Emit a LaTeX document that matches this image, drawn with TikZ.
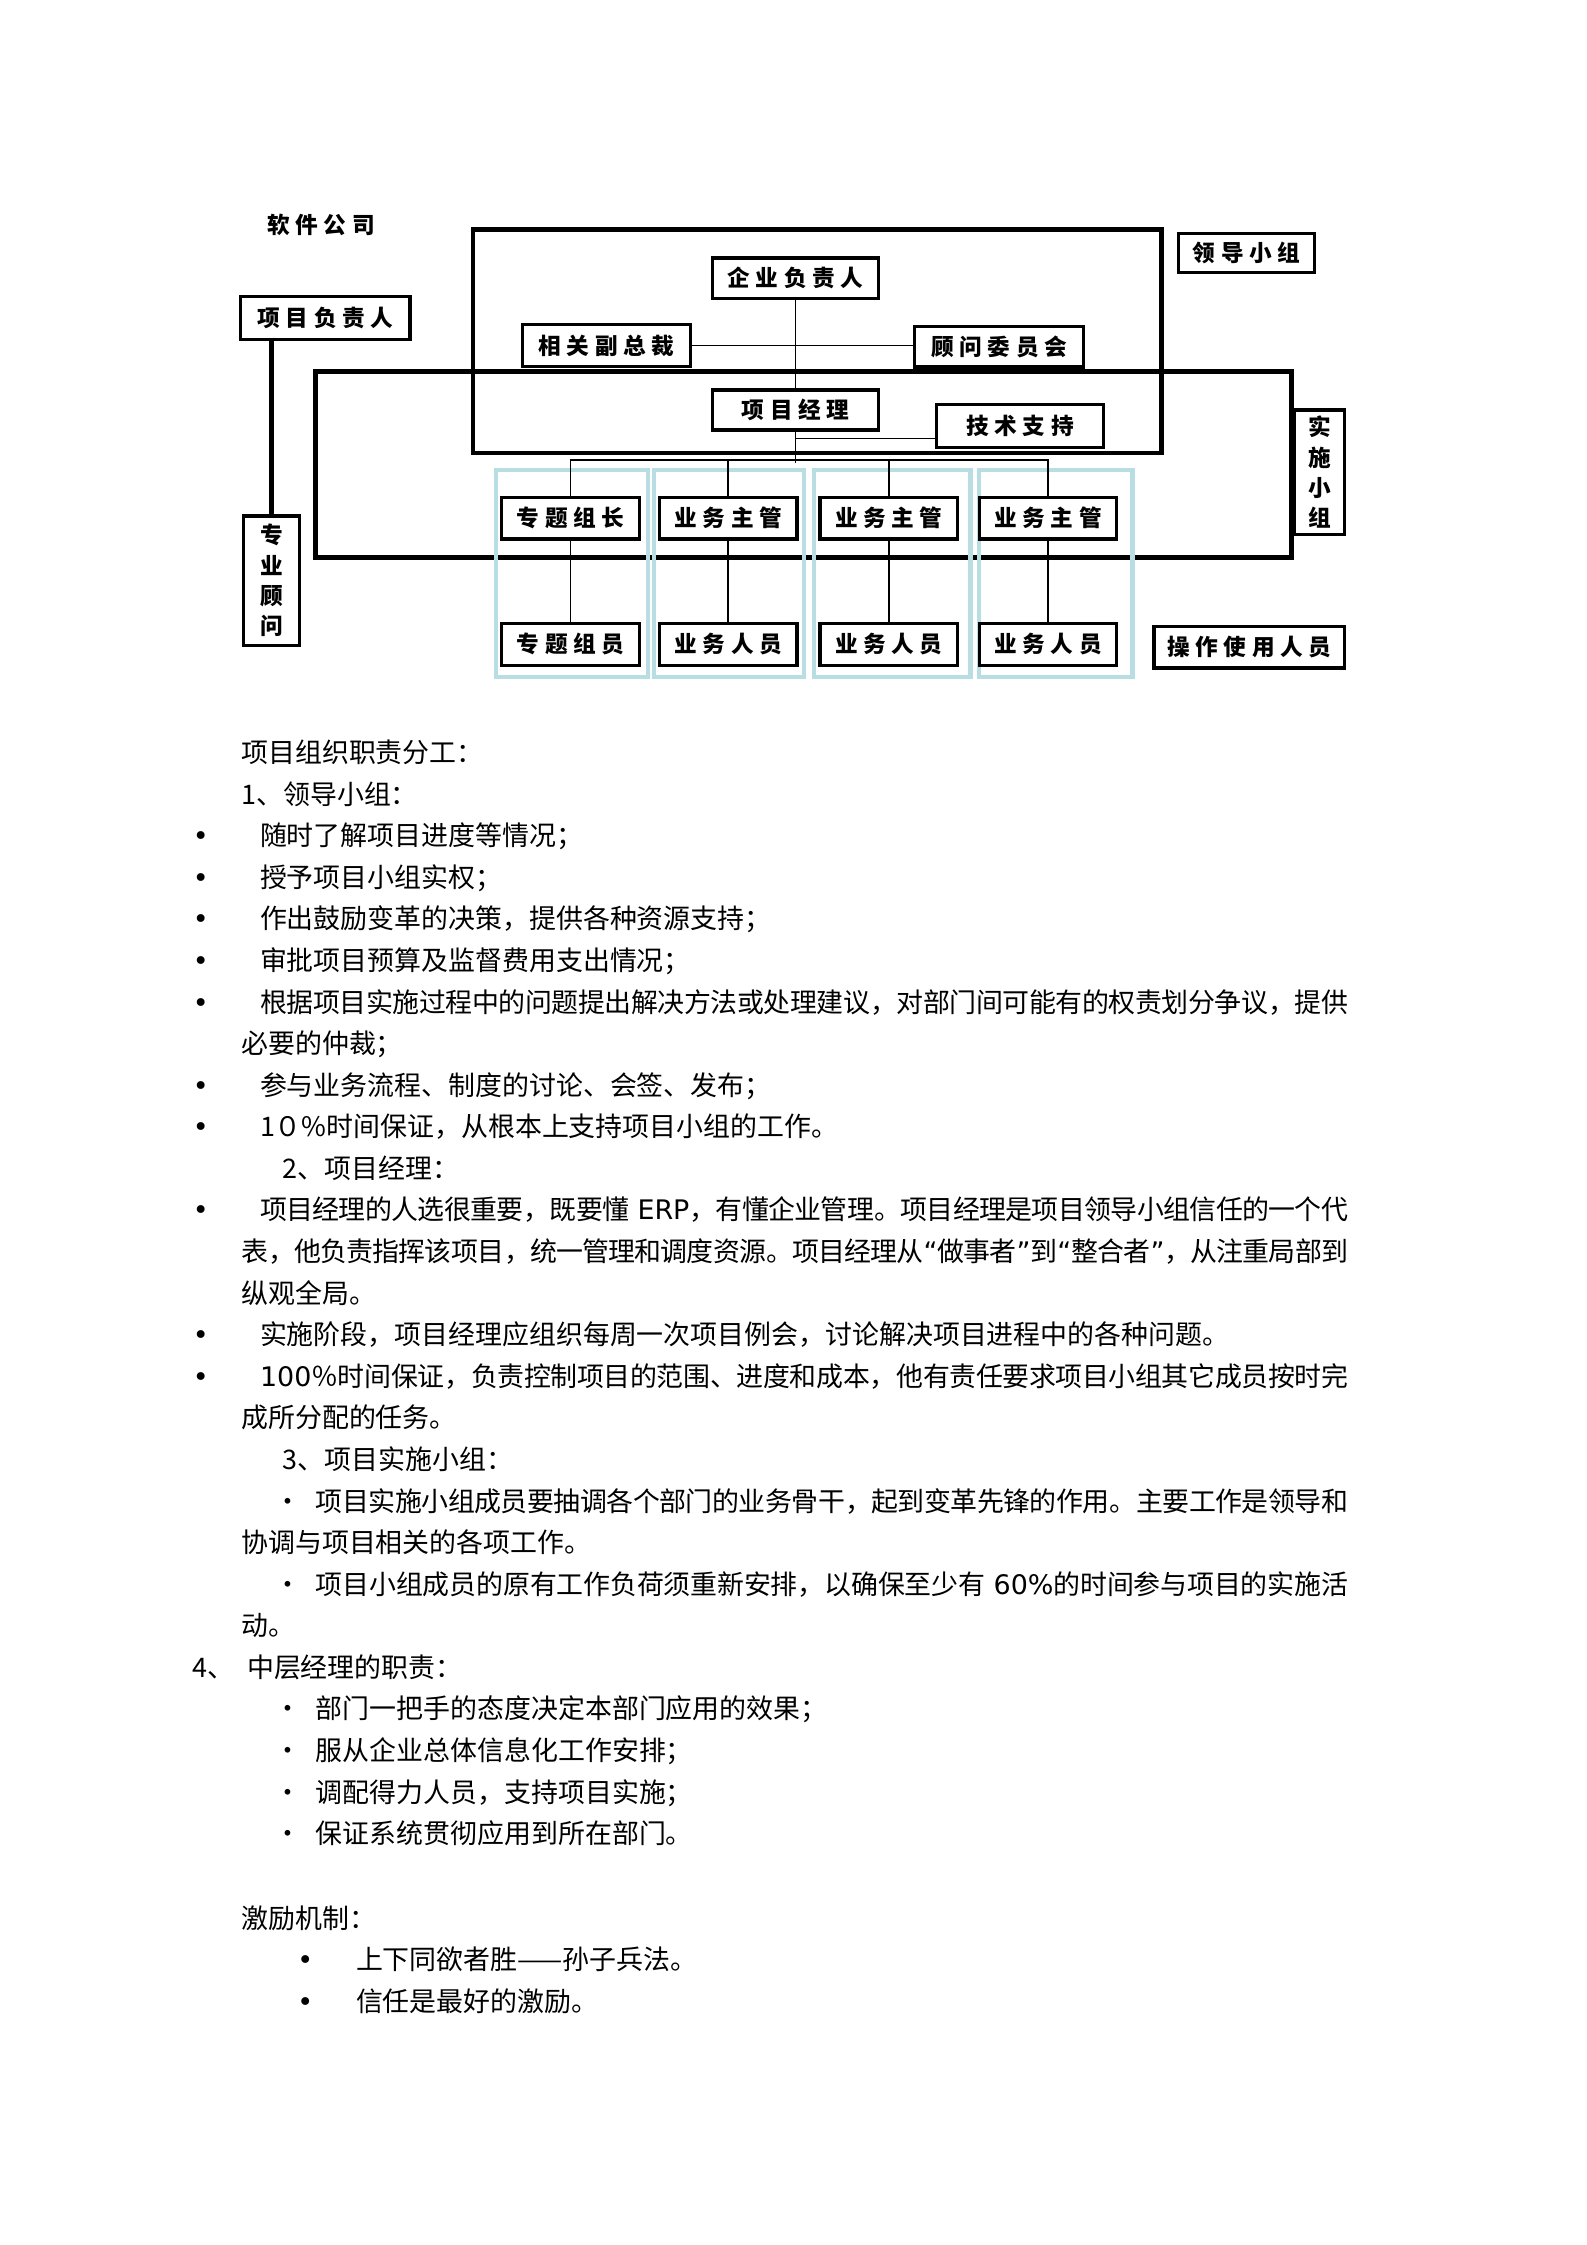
\documentclass[tikz,border=0pt]{standalone}
\usepackage{fontspec}
\newfontfamily\cjkfont{Noto Sans CJK SC}
\newfontfamily\latinfont{DejaVu Sans}
\newfontfamily\boxfont[LetterSpace=25]{Noto Sans CJK SC}
\XeTeXlinebreaklocale "zh"
\XeTeXlinebreakskip=0pt plus 2pt minus 1.5pt
\usepackage{tikz}
\usetikzlibrary{calc}
\usepackage{xcolor}
\definecolor{colblue}{RGB}{184,221,226}
\def\pxu{0.5378pt}
\newcommand\openq{{\latinfont “}}
\newcommand\closeq{{\latinfont ”}}

\tikzset{
  orgbox/.style={draw, line width=1.2pt, fill=white, inner sep=0pt,
    font=\boxfont\bfseries\fontsize{8.5pt}{9pt}\selectfont, minimum height=29*\pxu},
  vbox/.style={orgbox, align=center, font=\boxfont\bfseries\fontsize{8.5pt}{11.4pt}\selectfont},
  frame/.style={line width=1.8pt},
  colframe/.style={colblue, line width=1.6pt},
  link/.style={line width=0.6pt},
  txt/.style={anchor=base west, inner sep=0pt, font=\cjkfont\fontsize{10.1pt}{14pt}\selectfont},
  jtxt/.style={txt, text width=#1*\pxu, align=justify},
  dotmark/.style={anchor=base, inner sep=0pt, font=\latinfont\fontsize{10.1pt}{14pt}\selectfont},
}

\begin{document}
\begin{tikzpicture}[x=\pxu, y=-\pxu]
    \useasboundingbox (0,0) rectangle (1107,1566);

    % group frames
    \draw[frame] (330,160) rectangle (810,316);
    \draw[frame] (220,259) rectangle (901,389);
    \foreach \l/\r in {346/452, 456/561, 568/677, 683/790}
        \draw[colframe] (\l,328) rectangle (\r,472);

    % boxes
    \node[font=\boxfont\bfseries\fontsize{8.5pt}{9pt}\selectfont] (ruanjian) at (224,157) {软件公司};
    \node[orgbox, minimum width=118*\pxu, minimum height=30*\pxu] (xmfzr) at (227,222) {项目负责人};
    \node[orgbox, minimum width=116*\pxu, minimum height=28*\pxu] (qyfzr) at (555,194) {企业负责人};
    \node[orgbox, minimum width=117*\pxu] (xgfzc) at (423,241) {相关副总裁};
    \node[orgbox, minimum width=118*\pxu, minimum height=28*\pxu] (gwwyh) at (697,242) {顾问委员会};
    \node[orgbox, minimum width=95*\pxu, minimum height=27*\pxu] (ldxz) at (869.5,176.5) {领导小组};
    \node[orgbox, minimum width=116*\pxu, minimum height=28*\pxu] (xmjl) at (555,286) {项目经理};
    \node[orgbox, minimum width=117*\pxu, minimum height=30*\pxu] (jszc) at (711.5,297) {技术支持};
    \node[vbox, minimum width=35*\pxu, minimum height=87*\pxu] (sszz) at (920.5,329.5) {实\\施\\小\\组};
    \node[vbox, minimum width=39*\pxu, minimum height=90*\pxu] (zygw) at (189.5,405) {专\\业\\顾\\问};
    \foreach \nm/\cx/\lbl in {ztzz/398/专题组长, ywzg1/508/业务主管, ywzg2/620/业务主管, ywzg3/731/业务主管}
        \node[orgbox, minimum width=96*\pxu] (\nm) at (\cx,361.5) {\lbl};
    \foreach \nm/\cx/\lbl in {ztzy/398/专题组员, ywry1/508/业务人员, ywry2/620/业务人员, ywry3/731/业务人员}
        \node[orgbox, minimum width=96*\pxu] (\nm) at (\cx,449.5) {\lbl};
    \node[orgbox, minimum width=133*\pxu] (czsy) at (871.5,451.5) {操作使用人员};

    % connectors
    \draw[line width=1.7pt] (zygw.north) -- (zygw.north |- xmfzr.south);
    \draw[link] (xgfzc.east) -- (xgfzc.east -| gwwyh.west);
    \draw[link] (qyfzr.south) -- (xmjl.north);
    \coordinate (jsline) at ($(jszc.west)+(0,9)$);
    \draw[link] (xmjl.south |- jsline) -- (jsline);
    \draw[link] (ztzz.north) -- ++(0,-25) -| (ywzg3.north);
    \draw[link] (ywzg1.north) -- ++(0,-25);
    \draw[link] (ywzg2.north) -- ++(0,-25);
    \draw[link] (xmjl.south) -- ($(xmjl.south)+(0,22)$);
    \foreach \a/\b in {ztzz/ztzy, ywzg1/ywry1, ywzg2/ywry2, ywzg3/ywry3}
        \draw[link] (\a.south) -- (\b.north);

    % text lines
    \foreach \n/\x/\y/\s in {
        1/168/526/项目组织职责分工：,
        2/168/555/1、领导小组：,
        3/181/584/随时了解项目进度等情况；,
        4/181/613/授予项目小组实权；,
        5/181/642/作出鼓励变革的决策，提供各种资源支持；,
        6/181/671/审批项目预算及监督费用支出情况；,
        7/168/729/必要的仲裁；,
        8/181/758/参与业务流程、制度的讨论、会签、发布；,
        9/181/787/1０\%时间保证，从根本上支持项目小组的工作。,
        10/197/816/2、项目经理：,
        11/168/903/纵观全局。,
        12/181/932/实施阶段，项目经理应组织每周一次项目例会，讨论解决项目进程中的各种问题。,
        13/168/990/成所分配的任务。,
        14/197/1019/3、项目实施小组：,
        15/168/1077/协调与项目相关的各项工作。,
        16/168/1135/动。,
        17/134/1164/4、,
        18/172/1164/中层经理的职责：,
        19/220/1193/部门一把手的态度决定本部门应用的效果；,
        20/220/1222/服从企业总体信息化工作安排；,
        21/220/1251/调配得力人员，支持项目实施；,
        22/220/1280/保证系统贯彻应用到所在部门。,
        23/168/1339/激励机制：,
        24/248/1368/上下同欲者胜——孙子兵法。,
        25/248/1397/信任是最好的激励。}
        \node[txt] (t\n) at (\x,\y+6) {\s};

    % justified lines
    \node[jtxt=759] (j1) at (181,706) {\noindent\parfillskip=0pt 根据项目实施过程中的问题提出解决方法或处理建议，对部门间可能有的权责划分争议，提供};
    \node[jtxt=759] (j2) at (181,851) {\noindent\parfillskip=0pt 项目经理的人选很重要，既要懂{\latinfont~ERP}，有懂企业管理。项目经理是项目领导小组信任的一个代};
    \node[jtxt=772] (j3) at (168,880) {\noindent\parfillskip=0pt 表，他负责指挥该项目，统一管理和调度资源。项目经理从\openq 做事者\closeq 到\openq 整合者\closeq ，从注重局部到};
    \node[jtxt=759] (j4) at (181,967) {\noindent\parfillskip=0pt {\latinfont 100}％时间保证，负责控制项目的范围、进度和成本，他有责任要求项目小组其它成员按时完};
    \node[jtxt=720] (j5) at (220,1054) {\noindent\parfillskip=0pt 项目实施小组成员要抽调各个部门的业务骨干，起到变革先锋的作用。主要工作是领导和};
    \node[jtxt=720] (j6) at (220,1112) {\noindent\parfillskip=0pt 项目小组成员的原有工作负荷须重新安排，以确保至少有{\latinfont~60\%}的时间参与项目的实施活};

    % bullets
    \foreach \y [count=\i] in {584,613,642,671,700,758,787,845,932,961}
        \node[dotmark] (b\i) at (140,\y+6) {•};
    \foreach \y [count=\i] in {1368,1397}
        \node[dotmark] (c\i) at (213,\y+6) {•};
    \foreach \y [count=\i] in {1048,1106,1193,1222,1251,1280}
        \node[dotmark, font=\cjkfont\fontsize{10.1pt}{14pt}\selectfont] (d\i) at (201,\y+6) {·};
\end{tikzpicture}
\end{document}
